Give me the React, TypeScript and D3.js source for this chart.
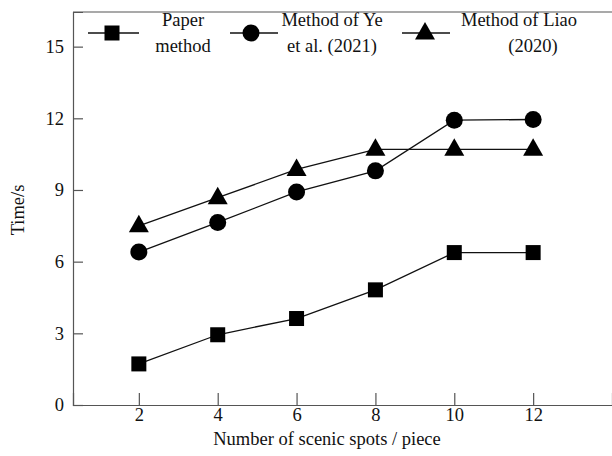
import * as d3 from "d3";
import React, { useEffect, useRef } from "react";

const spots = [2, 4, 6, 8, 10, 12];
const paperMethod = [1.72, 2.94, 3.62, 4.82, 6.38, 6.38];
const yeMethod = [6.4, 7.64, 8.92, 9.8, 11.92, 11.95];
const liaoMethod = [7.5, 8.68, 9.86, 10.7, 10.7, 10.7];
const yTicks = [0, 3, 6, 9, 12, 15];
const seriesNames = [["Paper", "method"], ["Method of Ye", "et al. (2021)"], ["Method of Liao", "(2020)"]];

const App = () => {
  const ref = useRef<SVGSVGElement>(null);
  const width = 612;
  const height = 456;
  const margin = { left: 73, top: 12, right: 0, bottom: 51 };
  const chartWidth = width - margin.left - margin.right;
  const chartHeight = height - margin.top - margin.bottom;
  const font = "'Liberation Serif', 'Times New Roman', serif";
  const fs = 18.5;

  useEffect(() => {
    const svg = d3.select(ref.current);
    svg.selectAll("*").remove();

    const x = d3.scaleLinear().domain([0.33, 14]).range([0, chartWidth]);
    const y = d3.scaleLinear().domain([0, 16.45]).range([chartHeight, 0]);

    const g = svg.append("g").attr("transform", `translate(${margin.left} ${margin.top})`);

    // frame: left, bottom, top (no right border)
    g.append("line").attr("x1", 0).attr("x2", chartWidth).attr("y1", 0).attr("y2", 0)
      .attr("stroke", "#555").attr("stroke-width", 1.2);

    const yAxisG = g.append("g").call(d3.axisLeft(y).tickValues(yTicks).tickSize(-10).tickPadding(9));
    const xAxisG = g.append("g").attr("transform", `translate(0, ${chartHeight})`)
      .call(d3.axisBottom(x).tickValues(spots).tickSize(-12).tickPadding(6));

    [yAxisG, xAxisG].forEach((a) => {
      a.select(".domain").attr("stroke", "#555").attr("stroke-width", 1.2);
      a.selectAll(".tick line").attr("stroke", "#555").attr("stroke-width", 1.2);
      a.selectAll(".tick text").attr("font-family", font).attr("font-size", fs).attr("fill", "#111");
    });
    xAxisG.selectAll(".tick text").attr("dy", "0.55em");

    // axis titles
    svg.append("text").attr("x", 327).attr("y", 445)
      .attr("text-anchor", "middle").attr("font-family", font).attr("font-size", fs).attr("fill", "#111")
      .text("Number of scenic spots / piece");
    svg.append("text").attr("transform", `translate(24, 210) rotate(-90)`)
      .attr("text-anchor", "middle").attr("font-family", font).attr("font-size", fs).attr("fill", "#111")
      .text("Time/s");

    const line = d3.line<[number, number]>().x((d) => x(d[0])).y((d) => y(d[1]));
    const allSeries = [paperMethod, yeMethod, liaoMethod];

    const drawMarker = (sel: any, kind: number, cx: number, cy: number) => {
      if (kind === 0) {
        sel.append("rect").attr("x", cx - 7.5).attr("y", cy - 7.5).attr("width", 15).attr("height", 15).attr("fill", "#000");
      } else if (kind === 1) {
        sel.append("circle").attr("cx", cx).attr("cy", cy).attr("r", 8.5).attr("fill", "#000");
      } else {
        sel.append("path").attr("d", `M${cx},${cy - 11}L${cx + 10},${cy + 6.5}L${cx - 10},${cy + 6.5}Z`).attr("fill", "#000");
      }
    };

    allSeries.forEach((vals, k) => {
      const pts: [number, number][] = spots.map((s, i) => [s, vals[i]]);
      g.append("path").attr("d", line(pts)).attr("fill", "none").attr("stroke", "#111").attr("stroke-width", 1.3);
      pts.forEach((p) => drawMarker(g, k, x(p[0]), y(p[1])));
    });

    // legend
    const legend = svg.append("g");
    const legendItems = [
      { x1: 88, x2: 139, mx: 112, tx: 183 },
      { x1: 230, x2: 278, mx: 251, tx: 332 },
      { x1: 402, x2: 450, mx: 425, tx: 519 },
    ];
    const ly = 33;
    legendItems.forEach((it, k) => {
      legend.append("line").attr("x1", it.x1).attr("x2", it.x2).attr("y1", ly).attr("y2", ly)
        .attr("stroke", "#111").attr("stroke-width", 1.3);
      drawMarker(legend, k, it.mx, ly);
      const [a, b] = seriesNames[k];
      legend.append("text").attr("x", it.tx).attr("y", 26).attr("text-anchor", "middle")
        .attr("font-family", font).attr("font-size", fs).attr("fill", "#111").text(a);
      legend.append("text").attr("x", k === 2 ? it.tx + 14 : it.tx).attr("y", 52).attr("text-anchor", "middle")
        .attr("font-family", font).attr("font-size", fs).attr("fill", "#111").text(b);
    });
  }, []);

  return (
    <svg ref={ref} width={width} height={height}
      style={{ position: "absolute", left: 0, top: 0, background: "#fff" }} />
  );
};

export default App;
